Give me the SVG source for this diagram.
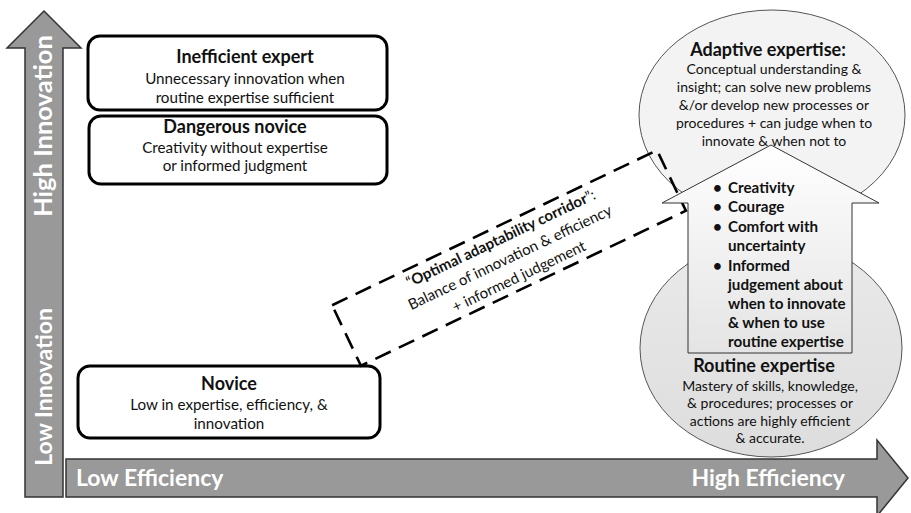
<svg xmlns="http://www.w3.org/2000/svg" width="911" height="513" viewBox="0 0 911 513">
<style>
text{font-family:Lato,"Open Sans","Liberation Sans",sans-serif;fill:#111}
.box{fill:#fff;stroke:#000;stroke-width:3}
.t{font-size:18px;font-weight:bold;text-anchor:middle}
.b{font-size:15.2px;text-anchor:middle}
.c{font-size:14px;text-anchor:middle}
.k{font-size:15px;text-anchor:middle}
.h{font-size:15.2px;font-weight:bold}
.ax{fill:#999;stroke:#333;stroke-width:1.5}
.axt{fill:#fff;font-weight:bold;font-size:23px}
</style>
<defs>
<linearGradient id="gh" x1="0" y1="0" x2="0" y2="1"><stop offset="0" stop-color="#ffffff"/><stop offset="1" stop-color="#e4e4e4"/></linearGradient>
<linearGradient id="gl" x1="0" y1="0" x2="0" y2="1"><stop offset="0" stop-color="#eaeaea"/><stop offset="1" stop-color="#dddddd"/></linearGradient>
</defs>
<g id="axis-innovation">
<path class="ax" d="M25,497 L25,48 L7,48 L44,11 L81,48 L63,48 L63,497 Z"/>
<text class="axt" transform="translate(52,126) rotate(-90)" text-anchor="middle" style="font-size:25.5px">High Innovation</text>
<text class="axt" transform="translate(52,387) rotate(-90)" text-anchor="middle">Low Innovation</text>
</g>
<g id="axis-efficiency">
<path class="ax" d="M66,459 L877,459 L877,440 L908,478 L877,516 L877,497 L66,497 Z"/>
<text class="axt" x="76" y="486">Low Efficiency</text>
<text class="axt" x="845" y="486" text-anchor="end">High Efficiency</text>
</g>
<g id="inefficient-expert">
<rect class="box" x="88" y="36" width="299" height="74" rx="12"/>
<text class="t" x="245" y="63">Inefficient expert</text>
<text class="b" x="245" y="84">Unnecessary innovation when</text>
<text class="b" x="245" y="103">routine expertise sufficient</text>
</g>
<g id="dangerous-novice">
<rect class="box" x="89" y="116" width="298" height="68" rx="12"/>
<text class="t" x="235" y="133">Dangerous novice</text>
<text class="b" x="235" y="153">Creativity without expertise</text>
<text class="b" x="235" y="171">or informed judgment</text>
</g>
<g id="novice">
<rect class="box" x="78" y="366" width="302" height="72" rx="12"/>
<text class="t" x="229" y="390">Novice</text>
<text class="b" x="229" y="410">Low in expertise, efficiency, &amp;</text>
<text class="b" x="229" y="429">innovation</text>
</g>
<g id="adaptive-expertise">
<ellipse cx="772" cy="115" rx="133" ry="105" fill="#f3f3f3" stroke="#555" stroke-width="1"/>
<text class="t" x="768" y="56">Adaptive expertise:</text>
<text class="c" x="774" y="74">Conceptual understanding &amp;</text>
<text class="c" x="774" y="92">insight; can solve new problems</text>
<text class="c" x="774" y="110">&amp;/or develop new processes or</text>
<text class="c" x="774" y="128">procedures + can judge when to</text>
<text class="c" x="774" y="146">innovate &amp; when not to</text>
</g>
<g id="routine-expertise">
<ellipse cx="771" cy="348" rx="131" ry="109" fill="url(#gl)" stroke="#555" stroke-width="1"/>
<text class="t" x="764" y="372">Routine expertise</text>
<text class="c" x="770" y="391">Mastery of skills, knowledge,</text>
<text class="c" x="770" y="408">&amp; procedures; processes or</text>
<text class="c" x="770" y="426">actions are highly efficient</text>
<text class="c" x="770" y="443">&amp; accurate.</text>
</g>
<g id="corridor" transform="translate(509,258) rotate(-25.5)">
<rect x="-180" y="-33.5" width="360" height="67" fill="none" stroke="#000" stroke-width="2.6" stroke-dasharray="17 9"/>
<text class="k" x="1" y="-16">“<tspan font-weight="bold">Optimal adaptability corridor</tspan>”:</text>
<text class="k" x="1" y="5">Balance of innovation &amp; efficiency</text>
<text class="k" x="1" y="26">+ informed judgement</text>
</g>
<g id="adaptability-traits">
<path d="M688,353 L688,203 L662,203 L771,145 L879,203 L852,203 L852,353 Z" fill="url(#gh)" stroke="#333" stroke-width="1"/>
<g class="h">
<text x="713" y="193">•</text><text x="728" y="193">Creativity</text>
<text x="713" y="212">•</text><text x="728" y="212">Courage</text>
<text x="713" y="232">•</text><text x="728" y="232">Comfort with</text>
<text x="728" y="251">uncertainty</text>
<text x="713" y="271">•</text><text x="728" y="271">Informed</text>
<text x="728" y="290">judgement about</text>
<text x="728" y="309">when to innovate</text>
<text x="728" y="328">&amp; when to use</text>
<text x="728" y="347">routine expertise</text>
</g>
</g>
<g id="connectors"></g>
</svg>
